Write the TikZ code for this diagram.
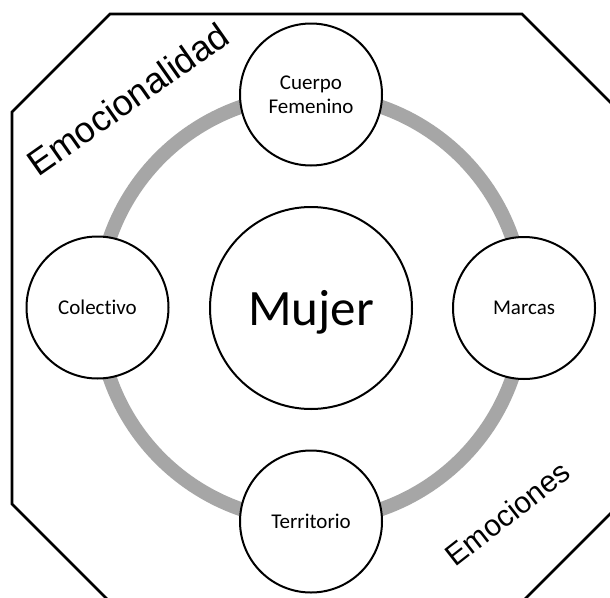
\documentclass[tikz,border=0pt]{standalone}
\usepackage{fontspec}
\setmainfont{Carlito}[Ligatures=NoCommon]
\newfontfamily\arialfont{Liberation Sans}
\definecolor{ringgray}{RGB}{166,166,166}
\begin{document}
\begin{tikzpicture}[x=1pt,y=-1pt,
  bubble/.style={circle, draw=black, line width=2pt, fill=white, minimum size=142pt, inner sep=0pt, align=center, font=\fontsize{21}{24}\selectfont},
  oneline/.style={text depth=0pt},
  bigbubble/.style={bubble, minimum size=202pt, font=\fontsize{51}{60}\selectfont, text depth=0pt},
  frame/.style={draw=black, line width=2.7pt, line join=miter},
  ring/.style={draw=ringgray, line width=14pt},
  sidelabel/.style={font=\arialfont\fontsize{36}{40}\selectfont, inner sep=0pt}]
\useasboundingbox (0,0) rectangle (610,597);
\clip (0,0) rectangle (610,597);
\fill[white] (0,0) rectangle (610,597);
\draw[frame] (110,14) -- (522,14) -- (620,112) -- (620,504) -- (522,602) -- (110,602) -- (12,504) -- (12,112) -- cycle;
\coordinate (hub) at (311,308);
\draw[ring] (hub) circle (213);
\node[bigbubble] (mujer) at (hub) {Mujer};
\node[bubble] (cuerpo) at (311,94.5) {Cuerpo\\Femenino};
\node[bubble, oneline] (marcas) at (524,308) {Marcas};
\node[bubble, oneline] (colectivo) at (97.5,307.5) {Colectivo};
\node[bubble, oneline] (territorio) at (311,521.5) {Territorio};
\node[sidelabel, rotate=35] (emocionalidad) at (128,99) {Emocionalidad};
\node[sidelabel, rotate=38, font=\arialfont\fontsize{30}{34}\selectfont] (emociones) at (507.5,513.5) {Emociones};
\end{tikzpicture}
\end{document}
